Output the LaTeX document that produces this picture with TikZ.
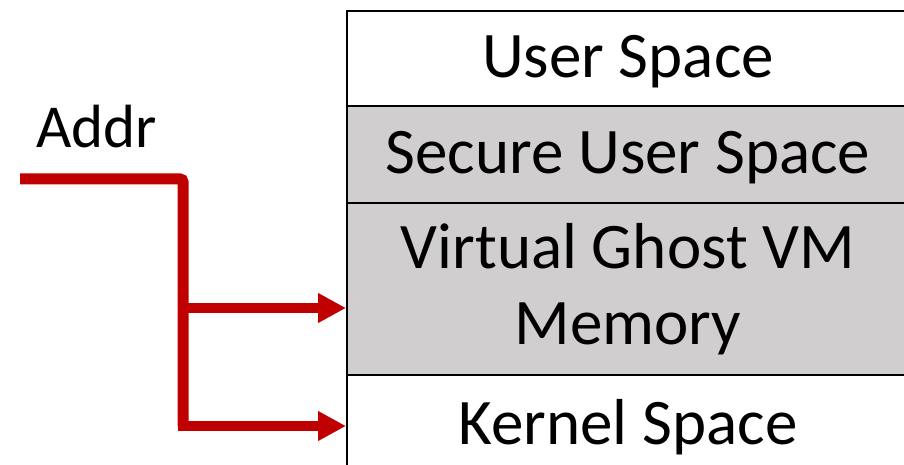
\documentclass[tikz,border=0pt]{standalone}
\usepackage{fontspec}
\setmainfont{Carlito}
\usetikzlibrary{arrows.meta,calc}
\definecolor{rowgray}{RGB}{208,206,206}
\definecolor{addrred}{RGB}{192,0,0}
\tikzset{
  row/.style={draw=black, line width=2pt, minimum width=562pt, inner sep=0pt, anchor=north west, font=\fontsize{65}{76}\selectfont, align=center},
  onerow/.style={row, text height=61pt, text depth=23pt},
  redline/.style={draw=addrred, line width=11pt, rounded corners=3pt},
  redarrow/.style={draw=addrred, line width=10pt, -{Triangle[length=28pt,width=28pt]}}
}
\begin{document}
\begin{tikzpicture}[x=1pt,y=-1pt]
\useasboundingbox (0,0) rectangle (904,465);
\node[onerow, minimum height=95pt, fill=white] (user) at (346,10) {User Space};
\node[onerow, minimum height=97pt, fill=rowgray] (secure) at (346,105) {Secure User Space};
\node[row, minimum height=172pt, fill=rowgray] (vgm) at (346,202) {Virtual Ghost VM\\Memory};
\node[onerow, minimum height=102pt, fill=white, text height=59pt] (kernel) at (346,374) {Kernel Space};
\node[font=\fontsize{61}{72}\selectfont, anchor=base west, inner sep=0pt] (addr) at (36,148) {Addr};
\coordinate (start) at (20,179);
\coordinate (bend) at (183,179);
\coordinate (tvgm) at ($(vgm.west)+(0,19)$);
\coordinate (jvgm) at (bend |- tvgm);
\coordinate (jker) at (bend |- kernel.west);
\draw[redline] (start) -- (bend) -- (jker);
\draw[redarrow] ([xshift=-5.5pt]jvgm) -- (tvgm);
\draw[redarrow] ([xshift=-5.5pt]jker) -- (kernel.west);
\end{tikzpicture}
\end{document}
